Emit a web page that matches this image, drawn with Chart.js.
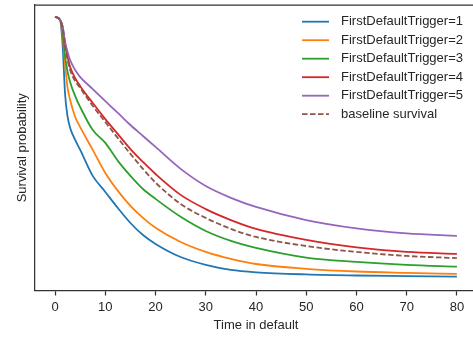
<!DOCTYPE html>
<html>
<head>
<meta charset="utf-8">
<script src="https://cdn.jsdelivr.net/npm/chart.js@4/dist/chart.umd.min.js"></script>
<style>
  html, body { margin: 0; padding: 0; background: #fff; overflow: hidden; }
  #wrap { width: 478px; height: 338px; }
</style>
</head>
<body>
<div id="wrap"><canvas id="survivalChart" width="478" height="338"></canvas></div>
<script>
// time in default (x) at which the curves were read
const timePoints = [0, 1, 1.5, 2, 2.5, 3, 4, 5, 7.5, 10, 12.5, 15, 17.5, 20, 25, 30, 35, 40, 50, 60, 70, 80];

// survival probability per FirstDefaultTrigger group
const trigger1 = [1.000, 0.988, 0.894, 0.708, 0.626, 0.585, 0.540, 0.503, 0.406, 0.346, 0.286, 0.230, 0.185, 0.152, 0.103, 0.074, 0.055, 0.046, 0.038, 0.034, 0.032, 0.030];
const trigger2 = [1.000, 0.988, 0.932, 0.820, 0.734, 0.689, 0.626, 0.588, 0.503, 0.417, 0.350, 0.294, 0.249, 0.212, 0.159, 0.122, 0.096, 0.077, 0.059, 0.049, 0.044, 0.040];
const trigger3 = [1.000, 0.988, 0.943, 0.850, 0.794, 0.756, 0.704, 0.663, 0.577, 0.529, 0.462, 0.406, 0.357, 0.320, 0.253, 0.200, 0.163, 0.137, 0.101, 0.085, 0.074, 0.067];
const trigger4 = [1.000, 0.988, 0.962, 0.898, 0.850, 0.812, 0.771, 0.741, 0.678, 0.618, 0.562, 0.506, 0.458, 0.413, 0.335, 0.282, 0.241, 0.208, 0.167, 0.139, 0.122, 0.115];
const trigger5 = [1.000, 0.988, 0.965, 0.906, 0.868, 0.838, 0.801, 0.775, 0.730, 0.685, 0.641, 0.596, 0.555, 0.514, 0.432, 0.368, 0.324, 0.290, 0.241, 0.210, 0.191, 0.182];
const baseline = [1.000, 0.988, 0.958, 0.887, 0.838, 0.801, 0.760, 0.734, 0.667, 0.607, 0.547, 0.488, 0.432, 0.381, 0.301, 0.249, 0.208, 0.178, 0.144, 0.122, 0.107, 0.099];

const seriesNames = ["FirstDefaultTrigger=1", "FirstDefaultTrigger=2", "FirstDefaultTrigger=3",
                     "FirstDefaultTrigger=4", "FirstDefaultTrigger=5", "baseline survival"];
const seriesColors = ["#1f77b4", "#ff7f0e", "#2ca02c", "#d62728", "#9467bd", "#8c564b"];
const xTicks = [0, 10, 20, 30, 40, 50, 60, 70, 80];

const fontFamily = '"Liberation Sans", Arial, sans-serif';
const inkColor = "#262626";

function toPoints(values) {
    return timePoints.map((t, i) => ({ x: t, y: values[i] }));
}

const allSeries = [trigger1, trigger2, trigger3, trigger4, trigger5, baseline];

const datasets = allSeries.map((values, i) => ({
    label: seriesNames[i],
    data: toPoints(values),
    borderColor: seriesColors[i],
    backgroundColor: seriesColors[i],
    borderWidth: 1.8,
    borderDash: i === 5 ? [5.5, 2.5] : [],
    pointRadius: 0,
    fill: false,
    cubicInterpolationMode: "monotone",
    // matplotlib draws later lines on top
    order: allSeries.length - i
}));

// legend inside the axes plus the top spine
const innerLegend = {
    id: "innerLegend",
    afterDraw(chart) {
        const ctx = chart.ctx;
        const area = chart.chartArea;
        ctx.save();

        ctx.strokeStyle = "#333";
        ctx.lineWidth = 1.25;
        ctx.beginPath();
        ctx.moveTo(area.left, area.top);
        ctx.lineTo(chart.width, area.top);
        ctx.stroke();

        ctx.font = "13px " + fontFamily;
        ctx.textBaseline = "middle";
        chart.data.datasets.forEach((ds, i) => {
            const y = area.top + 16.7 + i * 18.5;
            ctx.strokeStyle = ds.borderColor;
            ctx.lineWidth = ds.borderWidth;
            ctx.setLineDash(ds.borderDash);
            ctx.beginPath();
            ctx.moveTo(302, y);
            ctx.lineTo(329, y);
            ctx.stroke();
            ctx.setLineDash([]);
            ctx.fillStyle = inkColor;
            ctx.fillText(ds.label, 341, y);
        });
        ctx.restore();
    }
};

const ctx = document.getElementById("survivalChart").getContext("2d");

new Chart(ctx, {
    type: "line",
    data: { datasets: datasets },
    options: {
        responsive: false,
        animation: false,
        layout: { padding: { top: 5, right: 1, left: 0, bottom: 0 } },
        plugins: {
            legend: { display: false },
            tooltip: { enabled: false }
        },
        scales: {
            x: {
                type: "linear",
                min: -4,
                max: 84,
                afterBuildTicks: axis => { axis.ticks = xTicks.map(v => ({ value: v })); },
                afterFit: axis => { axis.height = 47.5; },
                ticks: {
                    color: inkColor,
                    padding: 4,
                    maxRotation: 0,
                    font: { family: fontFamily, size: 13 }
                },
                grid: {
                    drawOnChartArea: false,
                    drawTicks: true,
                    tickLength: 5,
                    tickWidth: 1.25,
                    color: "#333"
                },
                border: { display: true, color: "#333", width: 1.25 },
                title: {
                    display: true,
                    text: "Time in default",
                    color: inkColor,
                    padding: { top: 0, bottom: 5 },
                    font: { family: fontFamily, size: 13 }
                }
            },
            y: {
                type: "linear",
                min: -0.022,
                max: 1.044,
                afterFit: axis => { axis.width = 35; },
                ticks: { display: false },
                grid: { drawOnChartArea: false, drawTicks: false },
                border: { display: true, color: "#333", width: 1.25 },
                title: {
                    display: true,
                    text: "Survival probability",
                    color: inkColor,
                    padding: { top: 15, bottom: 0 },
                    font: { family: fontFamily, size: 13 }
                }
            }
        }
    },
    plugins: [innerLegend]
});
</script>
</body>
</html>
